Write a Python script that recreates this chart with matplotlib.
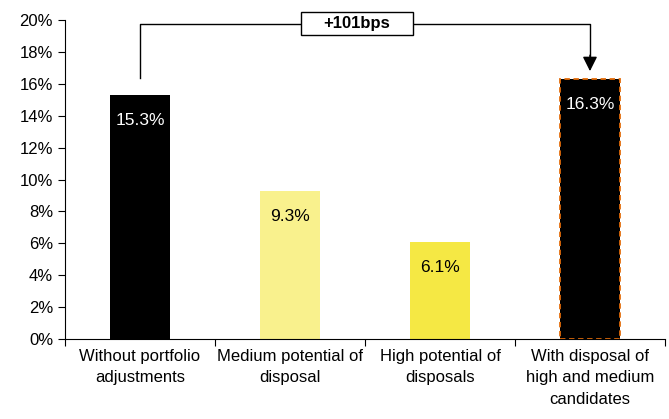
import matplotlib.pyplot as plt
from matplotlib.patches import Rectangle
from matplotlib.ticker import PercentFormatter

plt.rcParams['font.family'] = ['Liberation Sans', 'DejaVu Sans']

categories = ["Without portfolio\nadjustments", "Medium potential of\ndisposal",
              "High potential of\ndisposals", "With disposal of\nhigh and medium\ncandidates"]
values = [15.3, 9.3, 6.1, 16.3]
colors = ["#000000", "#F9F18D", "#F5E844", "#000000"]
label_colors = ["white", "black", "black", "white"]
delta_label = "+101bps"

fig = plt.figure(figsize=(6.69, 4.19), dpi=100)
ax = fig.add_axes([0.097, 0.191, 0.897, 0.761])

x = list(range(len(values)))
bars = ax.bar(x, values, width=0.4, color=colors, zorder=2)
# last bar gets the dashed orange outline
bars[-1].set_edgecolor("#E36C0A")
bars[-1].set_linestyle((0, (3, 2)))
bars[-1].set_linewidth(1.3)

for xi, v, c in zip(x, values, label_colors):
    ax.text(xi, v - 1.6, f"{v:.1f}%", ha="center", va="center", color=c, fontsize=12.5)

ax.set_xlim(-0.5, 3.5)
ax.set_ylim(0, 20)
ax.set_yticks(range(0, 21, 2))
ax.yaxis.set_major_formatter(PercentFormatter(decimals=0))
ax.set_xticks([-0.5, 0.5, 1.5, 2.5, 3.5])
ax.set_xticklabels([])
ax.set_xticks(x, minor=True)
ax.set_xticklabels(categories, minor=True, fontsize=12, linespacing=1.55)
ax.tick_params(axis="x", which="minor", length=0, pad=7)
ax.tick_params(axis="x", which="major", length=5, direction="out")
ax.tick_params(axis="y", length=5, direction="out", labelsize=12)
ax.spines["top"].set_visible(False)
ax.spines["right"].set_visible(False)

# bracket connector from first bar to last bar
top_y = 19.78
ax.plot([x[0], x[0], x[-1], x[-1]], [values[0] + 1.05, top_y, top_y, 17.7],
        color="black", lw=1, clip_on=False, zorder=3)
ax.annotate("", xy=(x[-1], values[-1] + 0.5), xytext=(x[-1], 17.8),
            arrowprops=dict(arrowstyle="-|>", color="black", lw=1,
                            mutation_scale=22, shrinkA=0, shrinkB=0),
            annotation_clip=False)
box_cx, box_w, box_h = 1.447, 0.747, 1.44
ax.add_patch(Rectangle((box_cx - box_w / 2, top_y - box_h / 2), box_w, box_h,
                       fc="white", ec="black", lw=1, clip_on=False, zorder=4))
ax.text(box_cx, top_y, delta_label, ha="center", va="center", fontsize=12,
        fontweight="bold", zorder=5, clip_on=False)
fig.savefig("out.png", dpi=100)
